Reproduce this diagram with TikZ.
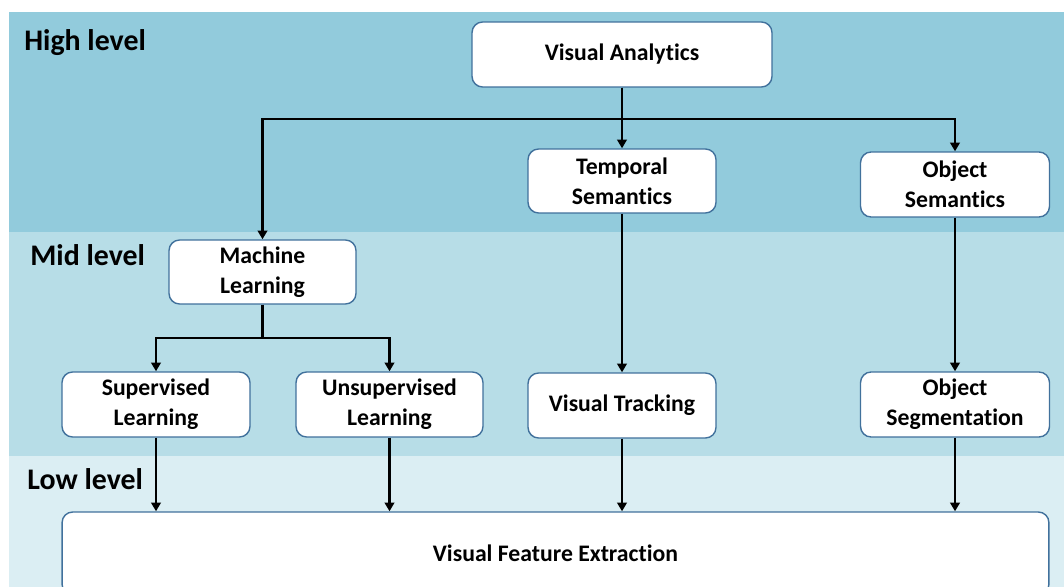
\documentclass[tikz,border=0pt]{standalone}
\usepackage{fontspec}
\setmainfont{Carlito}[Ligatures={NoCommon}]
\usetikzlibrary{arrows.meta}

\definecolor{highband}{HTML}{92CBDC}
\definecolor{midband}{HTML}{B7DDE7}
\definecolor{lowband}{HTML}{DBEEF3}
\definecolor{boxline}{HTML}{41719C}

\begin{document}
\begin{tikzpicture}[x=0.02cm, y=-0.02cm,
	block/.style={draw=boxline, line width=0.8pt, fill=white, rounded corners=6pt,
		align=center, inner sep=1pt, font=\fontsize{13.5}{17}\selectfont\bfseries},
	levellabel/.style={anchor=base west, inner sep=0pt, font=\fontsize{17}{20}\selectfont\bfseries},
	arr/.style={line width=1.3pt, -{Triangle[width=5.5pt,length=5pt]}}]
	
	\useasboundingbox (0,0) rectangle (1064,587);
	\clip (0,0) rectangle (1064,587);
	
	% Level bands
	\fill[highband] (9,12) rectangle (1064,232);
	\fill[midband] (9,232) rectangle (1064,456);
	\fill[lowband] (9,456) rectangle (1064,587);
	
	\node[levellabel] (high) at (24,51) {High level};
	\node[levellabel] (mid) at (30,266) {Mid level};
	\node[levellabel] (low) at (27,489) {Low level};
	
	% Boxes, top to bottom
	\node[block, minimum width=6cm, minimum height=1.3cm] (va) at (622,54.5) {Visual Analytics};
	\node[block, minimum width=3.76cm, minimum height=1.28cm] (ts) at (622,181) {Temporal\\Semantics};
	\node[block, minimum width=3.78cm, minimum height=1.3cm] (os) at (955,184.5) {Object\\Semantics};
	\node[block, minimum width=3.74cm, minimum height=1.28cm] (ml) at (262.5,272) {Machine\\Learning};
	\node[block, minimum width=3.76cm, minimum height=1.3cm] (sl) at (156,404.5) {Supervised\\Learning};
	\node[block, minimum width=3.74cm, minimum height=1.3cm] (ul) at (389.5,404.5) {Unsupervised\\Learning};
	\node[block, minimum width=3.76cm, minimum height=1.3cm] (vt) at (622,405.5) {Visual Tracking};
	\node[block, minimum width=3.78cm, minimum height=1.3cm] (osg) at (955,404.5) {Object\\Segmentation};
	\node[block, minimum width=19.74cm, minimum height=1.66cm] (vfe) at (555.5,553.5) {Visual Feature Extraction};
	
	% Split points of the tree
	\coordinate (topsplit) at (622,119);
	\coordinate (mlsplit) at (262.5,338);
	
	% Connectors
	\draw[arr] (va) -- (ts);
	\draw[arr] (va.south) -- (topsplit) -| (ml.north);
	\draw[arr] (topsplit) -| (os.north);
	\draw[arr] (ml.south) -- (mlsplit) -| (sl.north);
	\draw[arr] (mlsplit) -| (ul.north);
	\draw[arr] (ts) -- (vt);
	\draw[arr] (os) -- (osg);
	
	% Everything rests on feature extraction
	\foreach \n in {sl,ul,vt,osg}
		\draw[arr] (\n.south) -- (\n.south |- vfe.north);
	
\end{tikzpicture}
\end{document}
